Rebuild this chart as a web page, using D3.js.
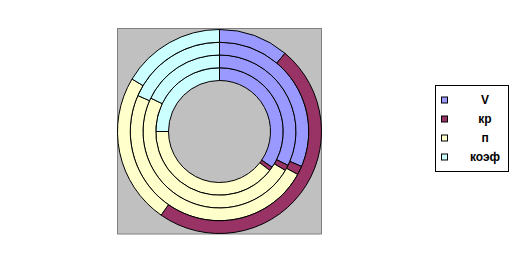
<!DOCTYPE html>
<html>
<head>
<meta charset="utf-8">
<script src="https://cdn.jsdelivr.net/npm/d3@7"></script>
<style>
  body { margin: 0; background: #fff; }
  svg { display: block; }
</style>
</head>
<body>
<div id="chart"></div>
<script>
// categories (legend entries) and one array per ring, inner ring first
const categories = ["V", "кр", "п", "коэф"];
const ring1 = [34.5, 1.0, 39.5, 25.0];
const ring2 = [32.3, 1.2, 48.7, 17.8];
const ring3 = [31.4, 1.6, 48.6, 18.4];
const ring4 = [11.1, 48.6, 23.9, 16.4];
const rings = [ring1, ring2, ring3, ring4];

const colors = ["#9999FF", "#993366", "#FFFFCC", "#CCFFFF"];

const width = 523, height = 264;
const plot = { x: 117.5, y: 28.5, w: 204, h: 205.5 };
const cx = 219.5, cy = 131.5;
const outerR = 102, holeR = 51;
const ringW = (outerR - holeR) / rings.length;

const svg = d3.select("#chart").append("svg")
  .attr("width", width)
  .attr("height", height);

// grey plot area
svg.append("rect")
  .attr("x", plot.x).attr("y", plot.y)
  .attr("width", plot.w).attr("height", plot.h)
  .attr("fill", "#C0C0C0")
  .attr("stroke", "#808080")
  .attr("stroke-width", 1);

const color = d3.scaleOrdinal().domain(categories).range(colors);
const pie = d3.pie().sort(null);

const g = svg.append("g").attr("transform", `translate(${cx},${cy})`);

rings.forEach((vals, i) => {
  const arc = d3.arc()
    .innerRadius(holeR + i * ringW)
    .outerRadius(holeR + (i + 1) * ringW);
  g.append("g").selectAll("path")
    .data(pie(vals))
    .join("path")
    .attr("d", arc)
    .attr("fill", (d, j) => color(categories[j]))
    .attr("stroke", "#000")
    .attr("stroke-width", 1);
});

// legend
const legend = svg.append("g");
legend.append("rect")
  .attr("x", 435.5).attr("y", 85.5)
  .attr("width", 73).attr("height", 86)
  .attr("fill", "#fff")
  .attr("stroke", "#000")
  .attr("stroke-width", 1);

const ly = d3.scalePoint().domain(categories).range([100, 157]);

legend.selectAll("rect.key")
  .data(categories)
  .join("rect")
  .attr("class", "key")
  .attr("x", 441.5)
  .attr("y", d => ly(d) - 3)
  .attr("width", 6).attr("height", 6)
  .attr("fill", d => color(d))
  .attr("stroke", "#000")
  .attr("stroke-width", 1);

legend.selectAll("text")
  .data(categories)
  .join("text")
  .attr("x", 485)
  .attr("y", d => ly(d) + 4)
  .attr("text-anchor", "middle")
  .attr("font-family", "Liberation Sans, Arial, sans-serif")
  .attr("font-weight", "bold")
  .attr("font-size", 12)
  .text(d => d);
</script>
</body>
</html>
